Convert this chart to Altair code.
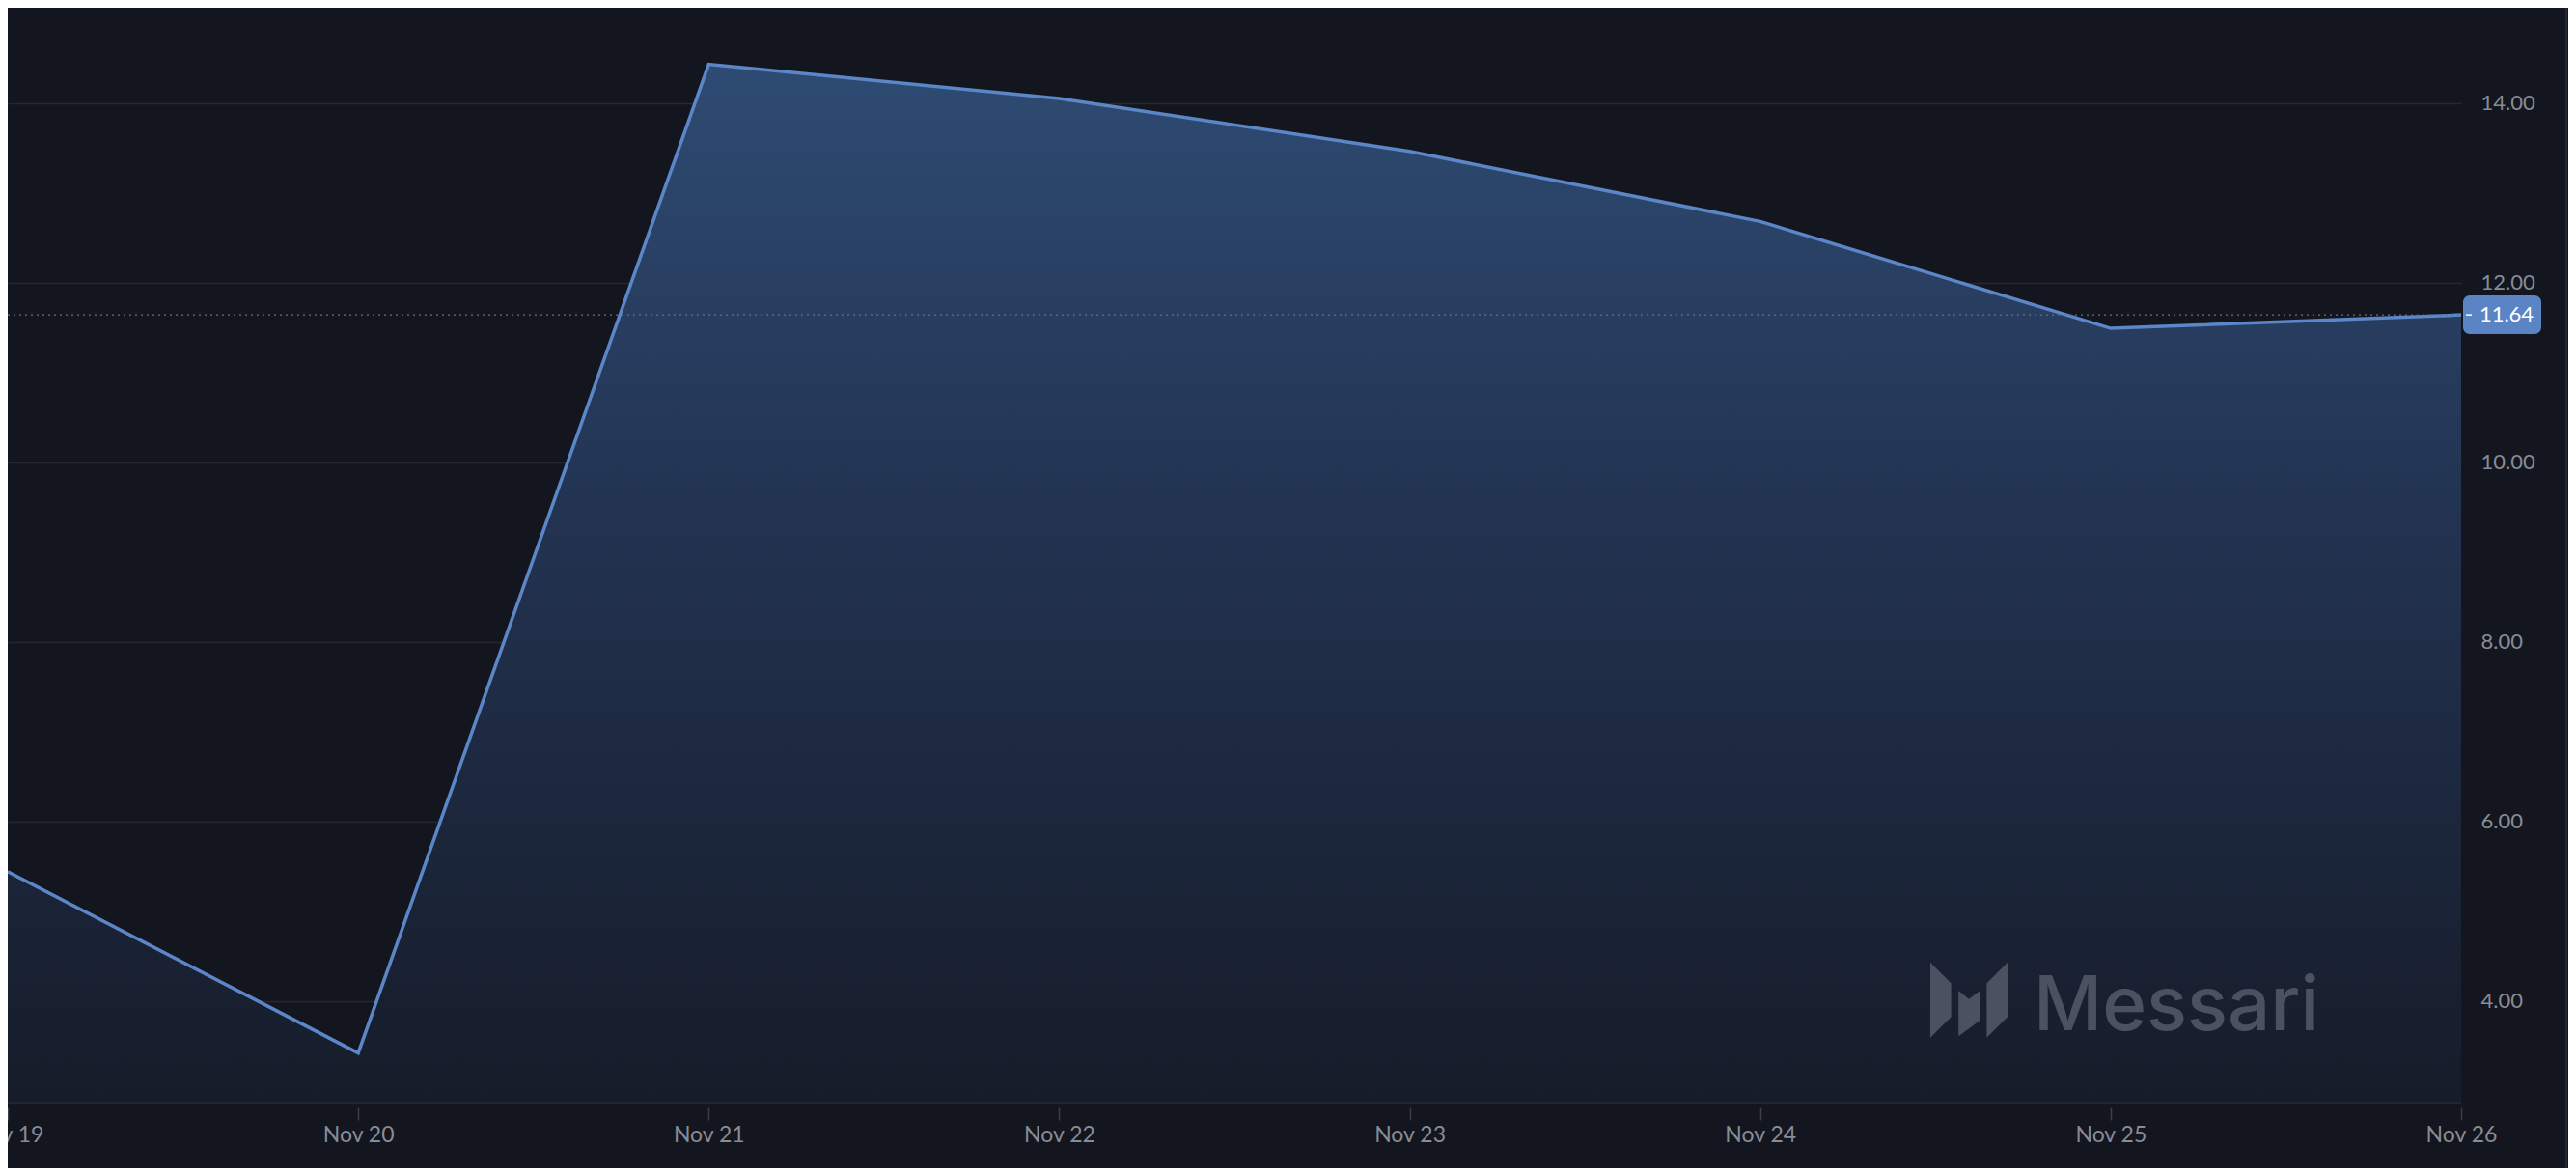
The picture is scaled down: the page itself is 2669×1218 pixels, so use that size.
import altair as alt
import pandas as pd

days = ["Nov 19", "Nov 20", "Nov 21", "Nov 22", "Nov 23", "Nov 24", "Nov 25", "Nov 26"]
prices = [5.44, 3.42, 14.43, 14.05, 13.46, 12.68, 11.49, 11.64]
y_ticks = [4, 6, 8, 10, 12, 14]
last_price = 11.64
y_min, y_max = 2.868, 15.06

df = pd.DataFrame({"i": list(range(len(days))), "day": days, "price": prices})

W, H = 2542, 1134
label_expr = "[" + ",".join(f"'{d}'" for d in days) + "][datum.value]"

x = alt.X("i:Q", scale=alt.Scale(domain=[0, len(days) - 1], nice=False, zero=False),
          axis=alt.Axis(values=list(range(len(days))), labelExpr=label_expr, title=None,
                        orient="bottom", domain=False, grid=False, ticks=True, tickSize=13,
                        tickColor="#3a3f49", tickWidth=1.5, offset=5, labelPadding=4,
                        labelFontSize=23, labelColor="#878c96", labelFont="Lato",
                        labelFlush=False))
y = alt.Y("price:Q", scale=alt.Scale(domain=[y_min, y_max], nice=False, zero=False),
          axis=alt.Axis(values=y_ticks, format=".2f", title=None, orient="right",
                        domain=False, ticks=False, labelPadding=20, labelFontSize=22,
                        labelColor="#878c96", labelFont="Lato", grid=True,
                        gridColor="#242830", gridWidth=1.5))

base = alt.Chart(df)

area = base.mark_area(
    line=False,
    color=alt.Gradient(gradient="linear", x1=0, x2=0, y1=0, y2=1,
                       stops=[alt.GradientStop(color="#2e4b73", offset=0),
                              alt.GradientStop(color="#223250", offset=0.45),
                              alt.GradientStop(color="#161c29", offset=1)])
).encode(x=x, y=y, y2=alt.datum(y_min))

line = base.mark_line(color="#5b86c7", strokeWidth=3.5).encode(x="i:Q", y="price:Q")

bottom_rule = alt.Chart(pd.DataFrame({"v": [y_min]})).mark_rule(
    color="#262b35", strokeWidth=1.5).encode(y=alt.Y("v:Q"))

dotted = alt.Chart(pd.DataFrame({"v": [last_price]})).mark_rule(
    color="#6a707c", strokeWidth=1.2, strokeDash=[2, 4]).encode(
    y=alt.Y("v:Q"), x=alt.value(0), x2=alt.value(W + 2))

tag_df = pd.DataFrame({"v": [last_price], "lo": [last_price - 0.215], "hi": [last_price + 0.215],
                       "txt": [f"{last_price:.2f}"]})
tag_rect = alt.Chart(tag_df).mark_rect(color="#5b84c4", cornerRadius=7).encode(
    x=alt.value(W + 2), x2=alt.value(W + 83), y=alt.Y("hi:Q"), y2=alt.Y2("lo"))
tag_tick = alt.Chart(tag_df).mark_rule(color="#ffffff", strokeWidth=1.5).encode(
    x=alt.value(W + 5), x2=alt.value(W + 11), y=alt.Y("v:Q"))
tag_text = alt.Chart(tag_df).mark_text(color="#ffffff", fontSize=22, font="Lato",
                                       align="center", baseline="middle").encode(
    x=alt.value(W + 47), y=alt.Y("v:Q"), text="txt:N")

wm_color = "#4a5262"
wm_text = alt.Chart(pd.DataFrame({"t": ["Messari"]})).mark_text(
    color=wm_color, fontSize=78, font="Inter", fontWeight=500, align="left",
    baseline="alphabetic").encode(x=alt.value(2099), y=alt.value(1059), text="t:N")

logo_path = ("M -1 -0.98 L -0.46 -0.44 L -0.46 0.43 L -1 0.97 Z "
             "M -0.27 -0.25 L 0 -0.03 L 0.29 -0.25 L 0.29 0.52 L -0.27 0.93 Z "
             "M 0.46 -0.44 L 1 -0.98 L 1 0.43 L 0.46 0.97 Z")
logo = alt.Chart(pd.DataFrame({"k": [0]})).mark_point(
    shape=logo_path, filled=True, size=6400, color=wm_color, opacity=1, strokeWidth=0
).encode(x=alt.value(2032), y=alt.value(1028))

border = alt.Chart(pd.DataFrame({"k": [0]})).mark_rule(color="#23272f", strokeWidth=2).encode(
    x=alt.value(2651), y=alt.value(-8), y2=alt.value(1202))

chart = alt.layer(area, bottom_rule, wm_text, logo, line, dotted,
                  tag_rect, tag_tick, tag_text, border).properties(
    width=W, height=H,
    autosize=alt.AutoSizeParams(type="none"),
    padding={"left": 0, "top": 0, "right": 111, "bottom": 68},
    background="#13161e",
).configure_view(stroke=None)

chart.save("out.html", embed_options={"renderer": "svg", "actions": False})
